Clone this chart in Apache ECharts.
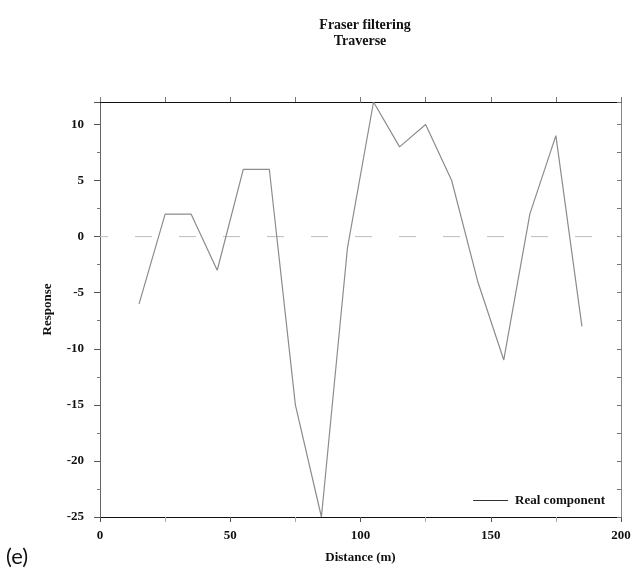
<!DOCTYPE html>
<html>
<head>
<meta charset="utf-8">
<script src="https://cdn.jsdelivr.net/npm/echarts@6/dist/echarts.min.js"></script>
<style>html,body{margin:0;padding:0;background:#fff}#c{width:634px;height:574px}</style>
</head>
<body>
<div id="c"></div>
<script>
const distance = [15, 25, 35, 45, 55, 65, 75, 85, 95, 105, 115, 125, 135, 145, 155, 165, 175, 185];
const realComponent = [-6, 2, 2, -3, 6, 6, -15, -25, -1, 12, 8, 10, 5, -4, -11, 2, 9, -8];
const zeroLine = [[0, 0], [200, 0]];
const titleLines = ['Fraser filtering', 'Traverse'];
const seriesName = 'Real component';
const xName = 'Distance (m)';
const yName = 'Response';
const panelLabel = '(e)';

const F = 'Liberation Serif';
const chart = echarts.init(document.getElementById('c'));
const lbl = {fontFamily: F, fontWeight: 'bold', fontSize: 13, color: '#111'};
chart.setOption({
  animation: false,
  title: [
    {text: titleLines[0], left: 360, top: 13, textAlign: 'center', textStyle: {fontFamily: F, fontWeight: 'bold', fontSize: 14, color: '#111'}},
    {text: titleLines[1], left: 355, top: 29, textAlign: 'center', textStyle: {fontFamily: F, fontWeight: 'bold', fontSize: 14, color: '#111'}}
  ],
  grid: {left: 100, right: 13, top: 102, bottom: 57},
  legend: {
    right: 24, top: 489, icon: 'rect', itemWidth: 35, itemHeight: 1, itemGap: 6,
    itemStyle: {color: '#333'},
    textStyle: {fontFamily: F, fontWeight: 'bold', fontSize: 13, color: '#111', padding: [0, 0, 0, 2]},
    data: [seriesName]
  },
  xAxis: [
    {type: 'value', min: 0, max: 200, interval: 50, position: 'bottom',
     name: xName, nameLocation: 'middle', nameGap: 34,
     nameTextStyle: {fontFamily: F, fontWeight: 'bold', fontSize: 13, color: '#111'},
     axisLine: {onZero: false, lineStyle: {color: '#111', width: 1}},
     axisTick: {inside: false, length: 5, lineStyle: {color: '#555'}},
     minorTick: {show: true, splitNumber: 2, length: 5, lineStyle: {color: '#aaa'}},
     axisLabel: {...lbl, margin: 12},
     splitLine: {show: false}},
    {type: 'value', min: 0, max: 200, interval: 25, position: 'top',
     axisLine: {onZero: false, lineStyle: {color: '#111', width: 1}},
     axisTick: {inside: false, length: 5, lineStyle: {color: '#777'}},
     axisLabel: {show: false}, splitLine: {show: false}}
  ],
  yAxis: [
    {type: 'value', min: -25, max: 12, interval: 5, position: 'left',
     name: yName, nameLocation: 'middle', nameGap: 46, nameRotate: 90,
     nameTextStyle: {fontFamily: F, fontWeight: 'bold', fontSize: 13, color: '#111'},
     axisLine: {onZero: false, lineStyle: {color: '#666', width: 1}},
     axisTick: {inside: false, length: 6, lineStyle: {color: '#555'}},
     minorTick: {show: true, splitNumber: 2, length: 3, lineStyle: {color: '#777'}},
     axisLabel: {...lbl, margin: 16, showMaxLabel: false},
     splitLine: {show: false}},
    {type: 'value', min: -25, max: 12, interval: 2.5, position: 'right',
     axisLine: {onZero: false, lineStyle: {color: '#888', width: 1}},
     axisTick: {inside: true, length: 4, lineStyle: {color: '#777'}},
     axisLabel: {show: false}, splitLine: {show: false}}
  ],
  graphic: [
    {type: 'text', left: 6, top: 546, style: {text: panelLabel, font: '22px Lato', fill: '#111'}}
  ],
  series: [
    {type: 'line', name: 'zero', data: zeroLine, symbol: 'none', silent: true,
     lineStyle: {color: '#bdbdbd', width: 1, type: [17, 27], dashOffset: 9}, z: 1},
    {type: 'line', name: seriesName, data: distance.map((d, i) => [d, realComponent[i]]),
     symbol: 'none', lineStyle: {color: '#8c8c8c', width: 1.2}, itemStyle: {color: '#8c8c8c'}, z: 2}
  ]
});
</script>
</body>
</html>
